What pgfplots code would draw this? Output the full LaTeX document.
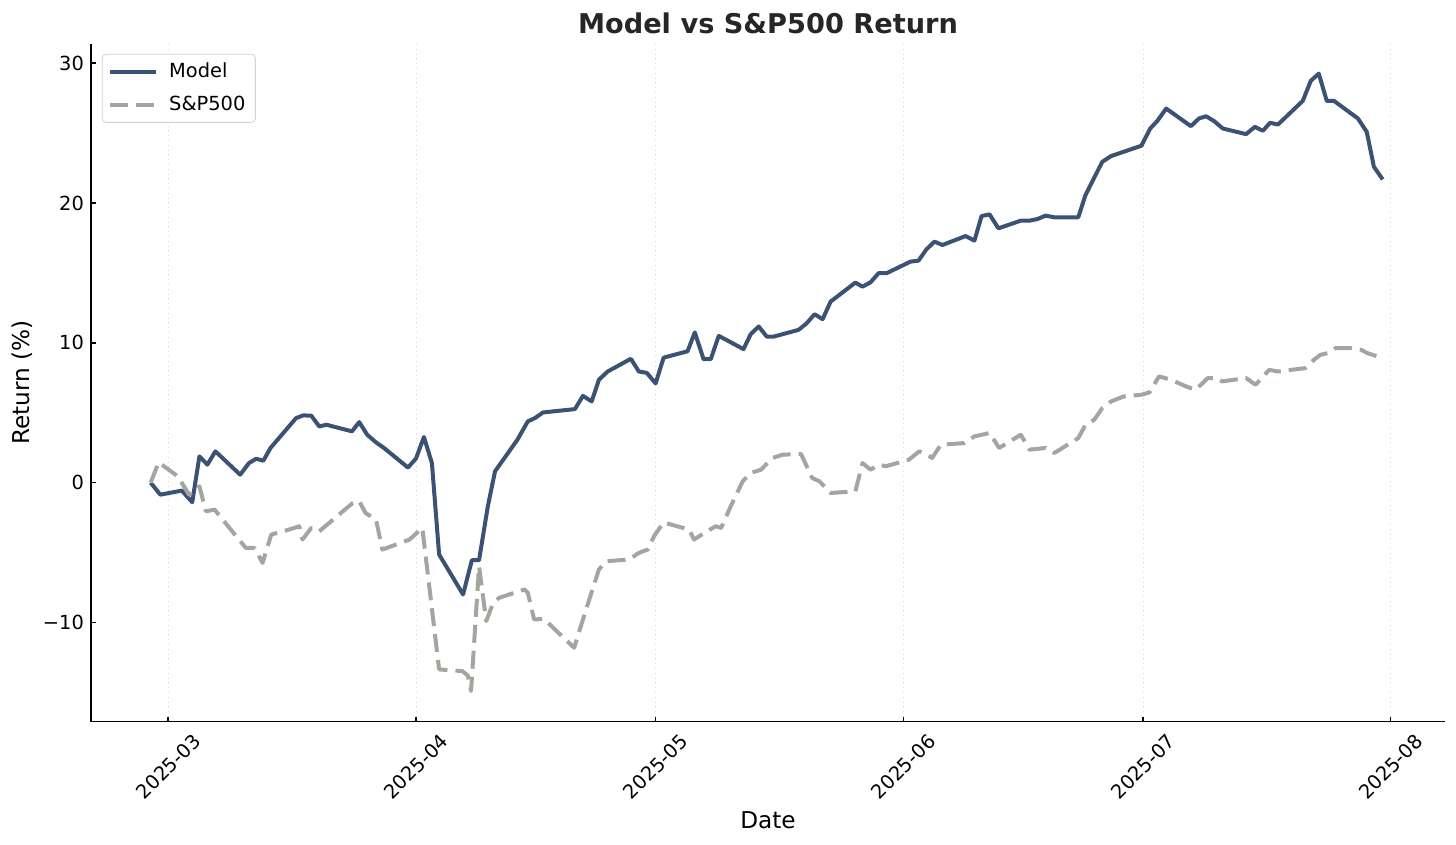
\documentclass[border=0pt]{standalone}
\usepackage{fontspec}
\setmainfont{DejaVu Sans}
\usepackage{pgfplots}
\pgfplotsset{compat=1.18}
\usepackage{pgfplotstable}

\definecolor{modelblue}{HTML}{3A5273}
\definecolor{spgray}{HTML}{A5A5A0}

% x = days since 2025-03-01, y = cumulative return in %
\pgfplotstableread{
d y
-2.2 0.0
-1.0 -0.86
1.7 -0.57
3.0 -1.4
3.9 1.88
4.9 1.29
5.9 2.24
9.0 0.57
10.1 1.4
11.0 1.71
11.9 1.57
12.8 2.48
16.0 4.62
16.9 4.81
17.9 4.79
18.9 4.02
19.8 4.14
23.0 3.67
23.9 4.33
24.9 3.43
26.0 2.88
27.0 2.48
30.0 1.08
31.0 1.72
32.0 3.26
33.0 1.4
33.9 -5.14
36.9 -8.0
38.0 -5.55
38.9 -5.55
40.0 -1.69
40.9 0.81
43.7 3.07
45.0 4.38
45.9 4.62
46.9 5.02
50.9 5.26
51.9 6.21
53.0 5.81
53.9 7.36
55.0 7.95
57.9 8.86
58.9 7.95
59.9 7.85
61.0 7.1
62.0 8.94
65.0 9.4
65.9 10.75
67.0 8.83
67.9 8.83
68.9 10.5
72.0 9.55
72.9 10.62
73.9 11.17
74.9 10.45
75.8 10.45
78.9 10.93
79.9 11.4
80.9 12.05
81.9 11.69
82.9 12.95
86.0 14.31
86.9 14.02
87.9 14.33
88.9 14.98
89.9 14.98
92.9 15.81
93.9 15.88
94.9 16.69
95.9 17.24
96.9 17.0
99.8 17.64
100.9 17.31
101.8 19.07
102.8 19.19
103.9 18.19
106.7 18.74
107.8 18.74
108.8 18.86
109.8 19.1
110.9 18.98
113.9 18.98
114.8 20.57
116.9 22.95
118.0 23.36
121.8 24.1
122.9 25.33
123.8 25.88
124.9 26.76
128.0 25.5
129.0 26.05
129.9 26.21
130.9 25.86
132.0 25.33
134.9 24.93
136.0 25.45
137.0 25.17
137.9 25.74
138.9 25.62
142.0 27.31
143.0 28.74
144.0 29.26
145.0 27.31
145.9 27.31
148.9 26.05
150.0 25.1
150.9 22.6
152.0 21.69
}\model

\pgfplotstableread{
d y
-2.2 0.0
-1.2 1.45
1.2 0.45
2.6 -0.86
3.9 -0.26
4.7 -2.05
5.8 -1.93
8.5 -3.83
9.7 -4.67
10.8 -4.67
11.8 -5.74
12.9 -3.71
15.1 -3.36
16.4 -3.12
16.8 -4.07
17.9 -3.24
18.9 -3.48
23.1 -1.45
23.9 -1.33
24.7 -2.17
26.0 -2.64
26.8 -4.79
30.2 -4.07
31.8 -3.24
33.9 -13.36
36.8 -13.48
37.5 -13.8
37.9 -14.9
38.9 -5.98
39.8 -9.9
40.6 -8.7
41.4 -8.24
44.6 -7.64
45.0 -7.88
45.8 -9.79
47.0 -9.74
50.8 -11.81
51.9 -9.79
53.9 -6.21
54.8 -5.62
57.7 -5.5
58.9 -5.02
60.0 -4.79
60.8 -3.83
62.0 -2.85
65.2 -3.36
65.8 -4.07
67.1 -3.6
68.5 -3.12
69.2 -3.24
70.4 -1.69
71.9 0.1
72.9 0.69
74.2 0.93
75.6 1.76
76.9 2.0
79.2 2.05
80.6 0.33
81.5 0.1
82.9 -0.74
86.0 -0.62
86.9 1.4
87.9 0.93
89.0 1.29
89.8 1.17
92.7 1.64
94.0 2.24
95.0 2.0
95.6 1.76
96.7 2.71
99.6 2.83
100.9 3.31
102.8 3.55
104.0 2.48
106.7 3.43
107.8 2.36
109.8 2.48
110.9 2.12
113.9 3.19
114.8 4.14
115.9 4.5
116.9 5.33
118.0 5.81
119.6 6.17
121.8 6.29
122.8 6.45
124.0 7.6
125.5 7.36
127.4 6.88
128.6 6.64
130.1 7.48
131.3 7.48
131.9 7.24
134.9 7.48
136.1 7.0
137.2 7.71
137.8 8.07
138.9 7.95
142.3 8.19
143.4 8.79
144.2 9.14
145.1 9.26
146.1 9.62
148.0 9.62
149.3 9.5
150.1 9.26
151.4 9.02
152.0 8.9
}\spx

\begin{document}
\begin{tikzpicture}
\begin{axis}[
    scale only axis,
    width=677pt, height=339pt,
    xmin=-9.67, xmax=159.8,
    ymin=-17.1, ymax=31.4,
    axis x line*=bottom, axis y line*=left,
    axis line style={-, line width=0.8pt},
    tick align=inside,
    major tick length=2.5pt,
    tick style={black, line width=0.8pt},
    xtick={0,31,61,92,122,153},
    xticklabels={2025-03,2025-04,2025-05,2025-06,2025-07,2025-08},
    ytick={-10,0,10,20,30},
    yticklabels={−10,0,10,20,30},
    ticklabel style={font=\fontsize{9.7}{11}\selectfont},
    xticklabel style={yshift=-22.5pt, rotate=45, anchor=center},
    xmajorgrids,
    major grid style={dotted, gray!30, line width=0.35pt},
    xlabel={Date},
    ylabel={Return (\%)},
    label style={font=\fontsize{11.6}{13.5}\selectfont},
    xlabel style={at={(axis description cs:0.5,-0.146)}, anchor=center},
    ylabel style={at={(axis description cs:-0.051,0.5)}, anchor=center},
    title={Model vs S\&P500 Return},
    title style={at={(axis description cs:0.5,1.012)}, anchor=center,
        font=\fontsize{13.6}{15}\selectfont\bfseries, text=black!85},
    legend style={at={(axis description cs:0.008,0.985)}, anchor=north west,
        draw=gray!35, rounded corners=2pt, fill=white,
        font=\fontsize{9.7}{11}\selectfont, row sep=3.5pt,
        inner xsep=3pt, inner ysep=2.5pt},
    legend cell align=left,
    legend image code/.code={\draw[#1] (0pt,0pt) -- (23pt,0pt); \path (26.5pt,0pt);},
]
\coordinate (bl) at (rel axis cs:0,0);
\addplot[modelblue, line width=2pt, line join=round] table[x=d, y=y] {\model};
\addlegendentry{Model}
\addplot[spgray, line width=2pt, line join=round, dash pattern=on 9pt off 4pt] table[x=d, y=y] {\spx};
\addlegendentry{S\&P500}
\end{axis}
\pgfresetboundingbox
\path[use as bounding box] (bl) ++(-45.5pt,-61.65pt) rectangle ++(728pt,422.5pt);
\end{tikzpicture}
\end{document}
